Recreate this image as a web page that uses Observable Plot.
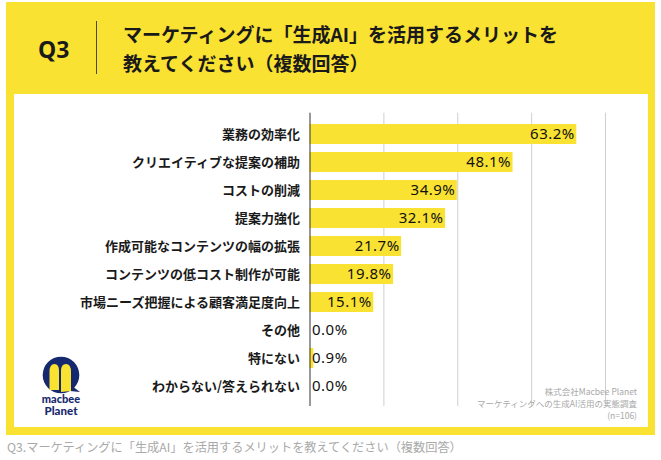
<!DOCTYPE html>
<html>
<head>
<meta charset="utf-8">
<script src="https://cdn.jsdelivr.net/npm/d3@7"></script>
<script src="https://cdn.jsdelivr.net/npm/@observablehq/plot@0.6"></script>
<style>
  html, body { margin: 0; padding: 0; background: #fff; }
  body { width: 661px; height: 460px; position: relative; overflow: hidden; font-family: "Noto Sans CJK JP", "Noto Sans", sans-serif; }
  .frame { position: absolute; left: 6px; top: 2px; width: 649px; height: 433px; background: #FAE232; }
  .inner { position: absolute; left: 14px; top: 94px; width: 634px; height: 333px; background: #fff; }
  .q { position: absolute; left: 38px; top: 36px; font-size: 23px; line-height: 26px; font-weight: 700; color: #1a1a1a; font-family: "Noto Sans", "Noto Sans CJK JP", sans-serif; }
  .divider { position: absolute; left: 96px; top: 21px; width: 1px; height: 53px; background: #4a4a3a; }
  .title { position: absolute; left: 123px; top: 19px; font-size: 19px; line-height: 29px; font-weight: 700; color: #1a1a1a; white-space: nowrap; }
  .source { position: absolute; right: 24px; top: 385px; font-size: 8.5px; line-height: 12px; color: #a8a8a8; text-align: right; white-space: nowrap; }
  .caption { position: absolute; left: 7px; top: 439px; font-size: 12.2px; line-height: 16px; color: #a9a9a9; white-space: nowrap; }
  #chart { position: absolute; left: 14px; top: 94px; }
  #chart svg g[aria-label="text"] text { letter-spacing: 0.5px; }
  .logo { position: absolute; left: 30px; top: 352px; }
</style>
</head>
<body>
<div class="frame"></div>
<div class="inner"></div>
<div class="q" id="q"></div>
<div class="divider"></div>
<div class="title" id="title"></div>
<div id="chart"></div>
<svg class="logo" width="64" height="70" viewBox="30 352 64 70">
  <circle cx="61" cy="375" r="18.3" fill="#17296e"></circle>
  <path d="M72 386 L80 392 L70 391 Z" fill="#17296e"></path>
  <path d="M49.5 390 L49.5 372 Q49.5 364 54.5 364 Q59 364 59 371 L59 390 Z" fill="#FAE232"></path>
  <path d="M61 392 L61 371 Q61 364 66 364 Q71 364 71 372 L71 391 Z" fill="#FAE232"></path>
  <text x="61" y="403" text-anchor="middle" font-family="Lato, 'Noto Sans', sans-serif" font-weight="900" font-size="11" fill="#17296e">macbee</text>
  <text x="61" y="415" text-anchor="middle" font-family="Lato, 'Noto Sans', sans-serif" font-weight="900" font-size="11.5" fill="#17296e">Planet</text>
</svg>
<div class="source" id="source"></div>
<div class="caption" id="caption"></div>
<script>
// ---- data ----
const questionNo = "Q3";
const titleLines = ["マーケティングに「生成AI」を活用するメリットを", "教えてください（複数回答）"];
const categories = [
  "業務の効率化",
  "クリエイティブな提案の補助",
  "コストの削減",
  "提案力強化",
  "作成可能なコンテンツの幅の拡張",
  "コンテンツの低コスト制作が可能",
  "市場ニーズ把握による顧客満足度向上",
  "その他",
  "特にない",
  "わからない/答えられない"
];
const values = [63.2, 48.1, 34.9, 32.1, 21.7, 19.8, 15.1, 0.0, 0.9, 0.0];
const gridTicks = [17.5, 35, 52.5, 70];
const sourceLines = ["株式会社Macbee Planet", "マーケティングへの生成AI活用の実態調査", "(n=106)"];
const captionText = "Q3.マーケティングに「生成AI」を活用するメリットを教えてください（複数回答）";

// ---- text ----
document.getElementById("q").textContent = questionNo;
document.getElementById("title").innerHTML = titleLines.map(t => `<div>${t}</div>`).join("");
document.getElementById("source").innerHTML = sourceLines.map(t => `<div>${t}</div>`).join("");
document.getElementById("caption").textContent = captionText;

// ---- chart ----
const data = categories.map((c, i) => ({category: c, value: values[i]}));
const yellow = "#FAE232";
const fmt = d => d.value.toFixed(1) + "%";

const chart = Plot.plot({
  width: 634,
  height: 333,
  marginLeft: 295.5,
  marginRight: 43,
  marginTop: 18.7,
  marginBottom: 21,
  style: {fontFamily: "'Noto Sans CJK JP', 'Noto Sans', sans-serif", background: "transparent", overflow: "visible"},
  x: {domain: [0, 70], axis: null},
  y: {domain: categories, padding: 0.3, axis: null},
  marks: [
    Plot.gridX(gridTicks, {stroke: "#cfcfcf", strokeOpacity: 1, strokeWidth: 1}),
    Plot.barX(data, {x: "value", y: "category", fill: yellow}),
    Plot.ruleX([0], {stroke: "#333", strokeWidth: 1}),
    Plot.axisY({tickSize: 0, tickPadding: 10, fontSize: 13, fontWeight: 700, fill: "#1a1a1a", label: null}),
    Plot.text(data.filter(d => d.value >= 10), {
      x: "value", y: "category", text: fmt, textAnchor: "end", dx: -2,
      fontSize: 15, fontWeight: 400, fill: "#111", fontFamily: "'Noto Sans', sans-serif"
    }),
    Plot.text(data.filter(d => d.value < 10), {
      x: d => 0, y: "category", text: fmt, textAnchor: "start", dx: 2,
      fontSize: 15, fontWeight: 400, fill: "#111", fontFamily: "'Noto Sans', sans-serif"
    })
  ]
});
document.getElementById("chart").appendChild(chart);
</script>
</body>
</html>
